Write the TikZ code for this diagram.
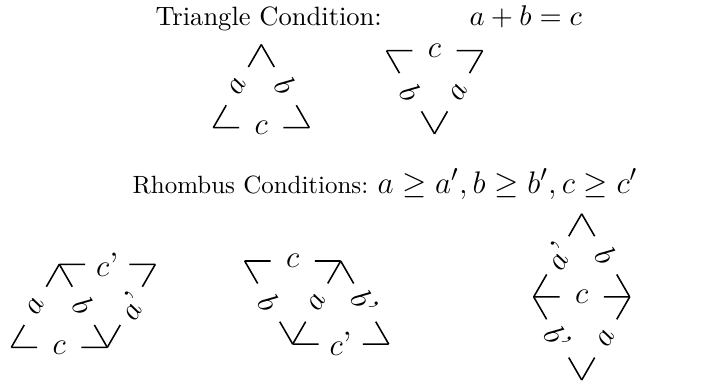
\documentclass[tikz,border=0pt]{standalone}
\usepackage{amsmath,amssymb}
\usepackage{tikz}
\usetikzlibrary{calc}

\tikzset{
    seg/.style={semithick},
    lbl/.style={midway, sloped, inner sep=1pt, font=\fontsize{13pt}{15pt}\selectfont},
    head/.style={anchor=base west, inner sep=0pt},
}
% edge with a gap in the middle, label sitting in the gap
\newcommand{\gapedge}[3]{%
    \draw[seg] (#1) -- ($(#1)!0.27!(#2)$);
    \draw[seg] (#2) -- ($(#2)!0.27!(#1)$);
    \path (#1) -- (#2) node[lbl] (#1-#2) {#3};
}

\begin{document}
\begin{tikzpicture}[x=0.3846pt, y=-0.3846pt]
    \useasboundingbox (0,0) rectangle (719,386);

    % headings
    \node [head, font=\fontsize{10.2pt}{12pt}\selectfont] (tritext) at (155,25) {Triangle Condition:};
    \node [head, font=\fontsize{11pt}{13pt}\selectfont] (trieq) at (469,25) {$a+b=c$};
    \node [head, font=\fontsize{9.6pt}{12pt}\selectfont] (rhtext) at (132,193) {Rhombus Conditions:};
    \node [head, font=\fontsize{12.6pt}{14pt}\selectfont] (rheq) at (377,193) {$a\geq a', b\geq b', c\geq c'$};

    % triangle, apex up
    \coordinate (uL) at (213.3,127.7);
    \coordinate (uR) at (309.3,127.7);
    \coordinate (uT) at (261.3,44.6);
    \gapedge{uL}{uT}{$a$}
    \gapedge{uT}{uR}{$b$}
    \gapedge{uL}{uR}{$c$}

    % triangle, apex down
    \coordinate (dL) at (386.5,50.7);
    \coordinate (dR) at (482.5,50.7);
    \coordinate (dB) at (434.5,133.8);
    \gapedge{dL}{dR}{$c$}
    \gapedge{dL}{dB}{$b$}
    \gapedge{dB}{dR}{$a$}

    % first rhombus
    \coordinate (pTL) at (59.3,264.3);
    \coordinate (pTR) at (155.3,264.3);
    \coordinate (pBL) at (11.3,347.4);
    \coordinate (pBR) at (107.3,347.4);
    \gapedge{pTL}{pTR}{$c$'}
    \gapedge{pBL}{pTL}{$a$}
    \gapedge{pTL}{pBR}{$b$}
    \gapedge{pBR}{pTR}{$a$'}
    \gapedge{pBL}{pBR}{$c$}

    % second rhombus
    \coordinate (qTL) at (244.7,261);
    \coordinate (qTM) at (340.7,261);
    \coordinate (qBM) at (292.7,344.1);
    \coordinate (qBR) at (388.7,344.1);
    \gapedge{qTL}{qTM}{$c$}
    \gapedge{qTL}{qBM}{$b$}
    \gapedge{qBM}{qTM}{$a$}
    \gapedge{qTM}{qBR}{$b$'}
    \gapedge{qBM}{qBR}{$c$'}

    % third rhombus, standing on its tip
    \coordinate (rT) at (581.7,213.8);
    \coordinate (rL) at (533.7,296.9);
    \coordinate (rR) at (629.7,296.9);
    \coordinate (rB) at (581.7,380);
    \gapedge{rL}{rT}{$a$'}
    \gapedge{rT}{rR}{$b$}
    \gapedge{rL}{rR}{$c$}
    \gapedge{rL}{rB}{$b$'}
    \gapedge{rB}{rR}{$a$}
\end{tikzpicture}
\end{document}
